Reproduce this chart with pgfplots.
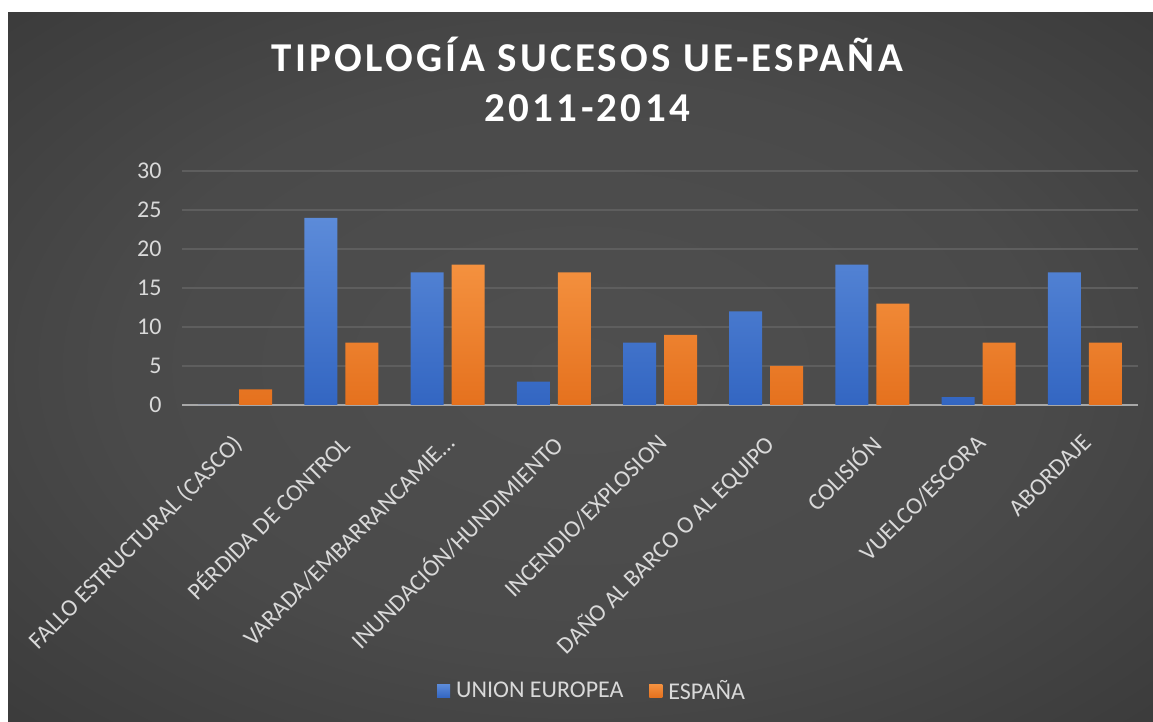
\documentclass[border=0pt]{standalone}
\usepackage{pgfplots}
\pgfplotsset{compat=1.18}
\usepackage{fontspec}
\setmainfont{Carlito}
\newfontfamily\titlefont[LetterSpace=8]{Carlito}
\definecolor{ticktxt}{HTML}{D9D9D9}
\definecolor{gridgray}{HTML}{5E5E5E}
\definecolor{axisgray}{HTML}{A8A8A8}
\definecolor{blueTop}{HTML}{5C8BD9}
\definecolor{blueBot}{HTML}{3366C2}
\definecolor{orangeTop}{HTML}{F4913F}
\definecolor{orangeBot}{HTML}{E5711E}
\pgfdeclareradialshading{bgshade}{\pgfpoint{0bp}{0bp}}{rgb(0bp)=(0.31,0.31,0.31); rgb(20bp)=(0.29,0.29,0.29); rgb(50bp)=(0.18,0.18,0.18); rgb(71bp)=(0.13,0.13,0.13)}
\begin{document}
\begin{tikzpicture}[x=1bp,y=1bp]
\fill[white] (0,0) rectangle (1153,722);
\shade[shading=bgshade] (8,0) rectangle (1153,709);
\useasboundingbox (0,0) rectangle (1153,722);
\begin{axis}[
  at={(182bp,317bp)}, anchor=south west,
  scale only axis, width=956bp, height=234bp,
  ymin=0, ymax=30, ytick={0,5,10,15,20,25,30},
  xmin=-0.5, xmax=8.5, xtick={0,1,2,3,4,5,6,7,8},
  xticklabels={{FALLO ESTRUCTURAL (CASCO)}, {PÉRDIDA DE CONTROL}, {VARADA/EMBARRANCAMIE…}, {INUNDACIÓN/HUNDIMIENTO}, {INCENDIO/EXPLOSION}, {DAÑO AL BARCO O AL EQUIPO}, {COLISIÓN}, {VUELCO/ESCORA}, {ABORDAJE}},
  ybar=8bp, bar width=33bp,
  axis x line*=bottom, axis y line*=left,
  y axis line style={draw=none},
  x axis line style={draw=axisgray, line width=1.6bp},
  major tick length=0pt,
  ymajorgrids, grid style={draw=gridgray, line width=1.3bp},
  tick label style={font=\fontsize{24bp}{28bp}\selectfont, text=ticktxt},
  /pgf/number format/assume math mode=true,
  xticklabel style={rotate=45, anchor=north east, inner sep=0pt, yshift=-17bp, xshift=-22bp},
  yticklabel style={xshift=-17bp},
  title={TIPOLOGÍA SUCESOS UE-ESPAÑA\\2011-2014},
  title style={at={(0.4240,1.3675)}, anchor=center, align=center, font=\titlefont\bfseries\fontsize{41bp}{50bp}\selectfont, text=white},
  legend style={at={(0.4289,-1.222)}, anchor=center, draw=none, fill=none, legend columns=-1, font=\fontsize{24bp}{28bp}\selectfont, text=ticktxt, /tikz/every odd column/.append style={column sep=4bp}, /tikz/every even column/.append style={column sep=24bp}},
]
\addplot[draw=none, top color=blueTop, bottom color=blueBot, legend image code/.code={\fill[blueTop!70!blueBot] (0bp,-6.5bp) rectangle (13bp,6.5bp);}]
  coordinates {(0,0) (1,24) (2,17) (3,3) (4,8) (5,12) (6,18) (7,1) (8,17)};
\addlegendentry{UNION EUROPEA}
\addplot[draw=none, top color=orangeTop, bottom color=orangeBot, legend image code/.code={\fill[orangeTop!60!orangeBot] (0bp,-6.5bp) rectangle (13bp,6.5bp);}]
  coordinates {(0,2) (1,8) (2,18) (3,17) (4,9) (5,5) (6,13) (7,8) (8,8)};
\addlegendentry{ESPAÑA}
\end{axis}
\end{tikzpicture}
\end{document}
